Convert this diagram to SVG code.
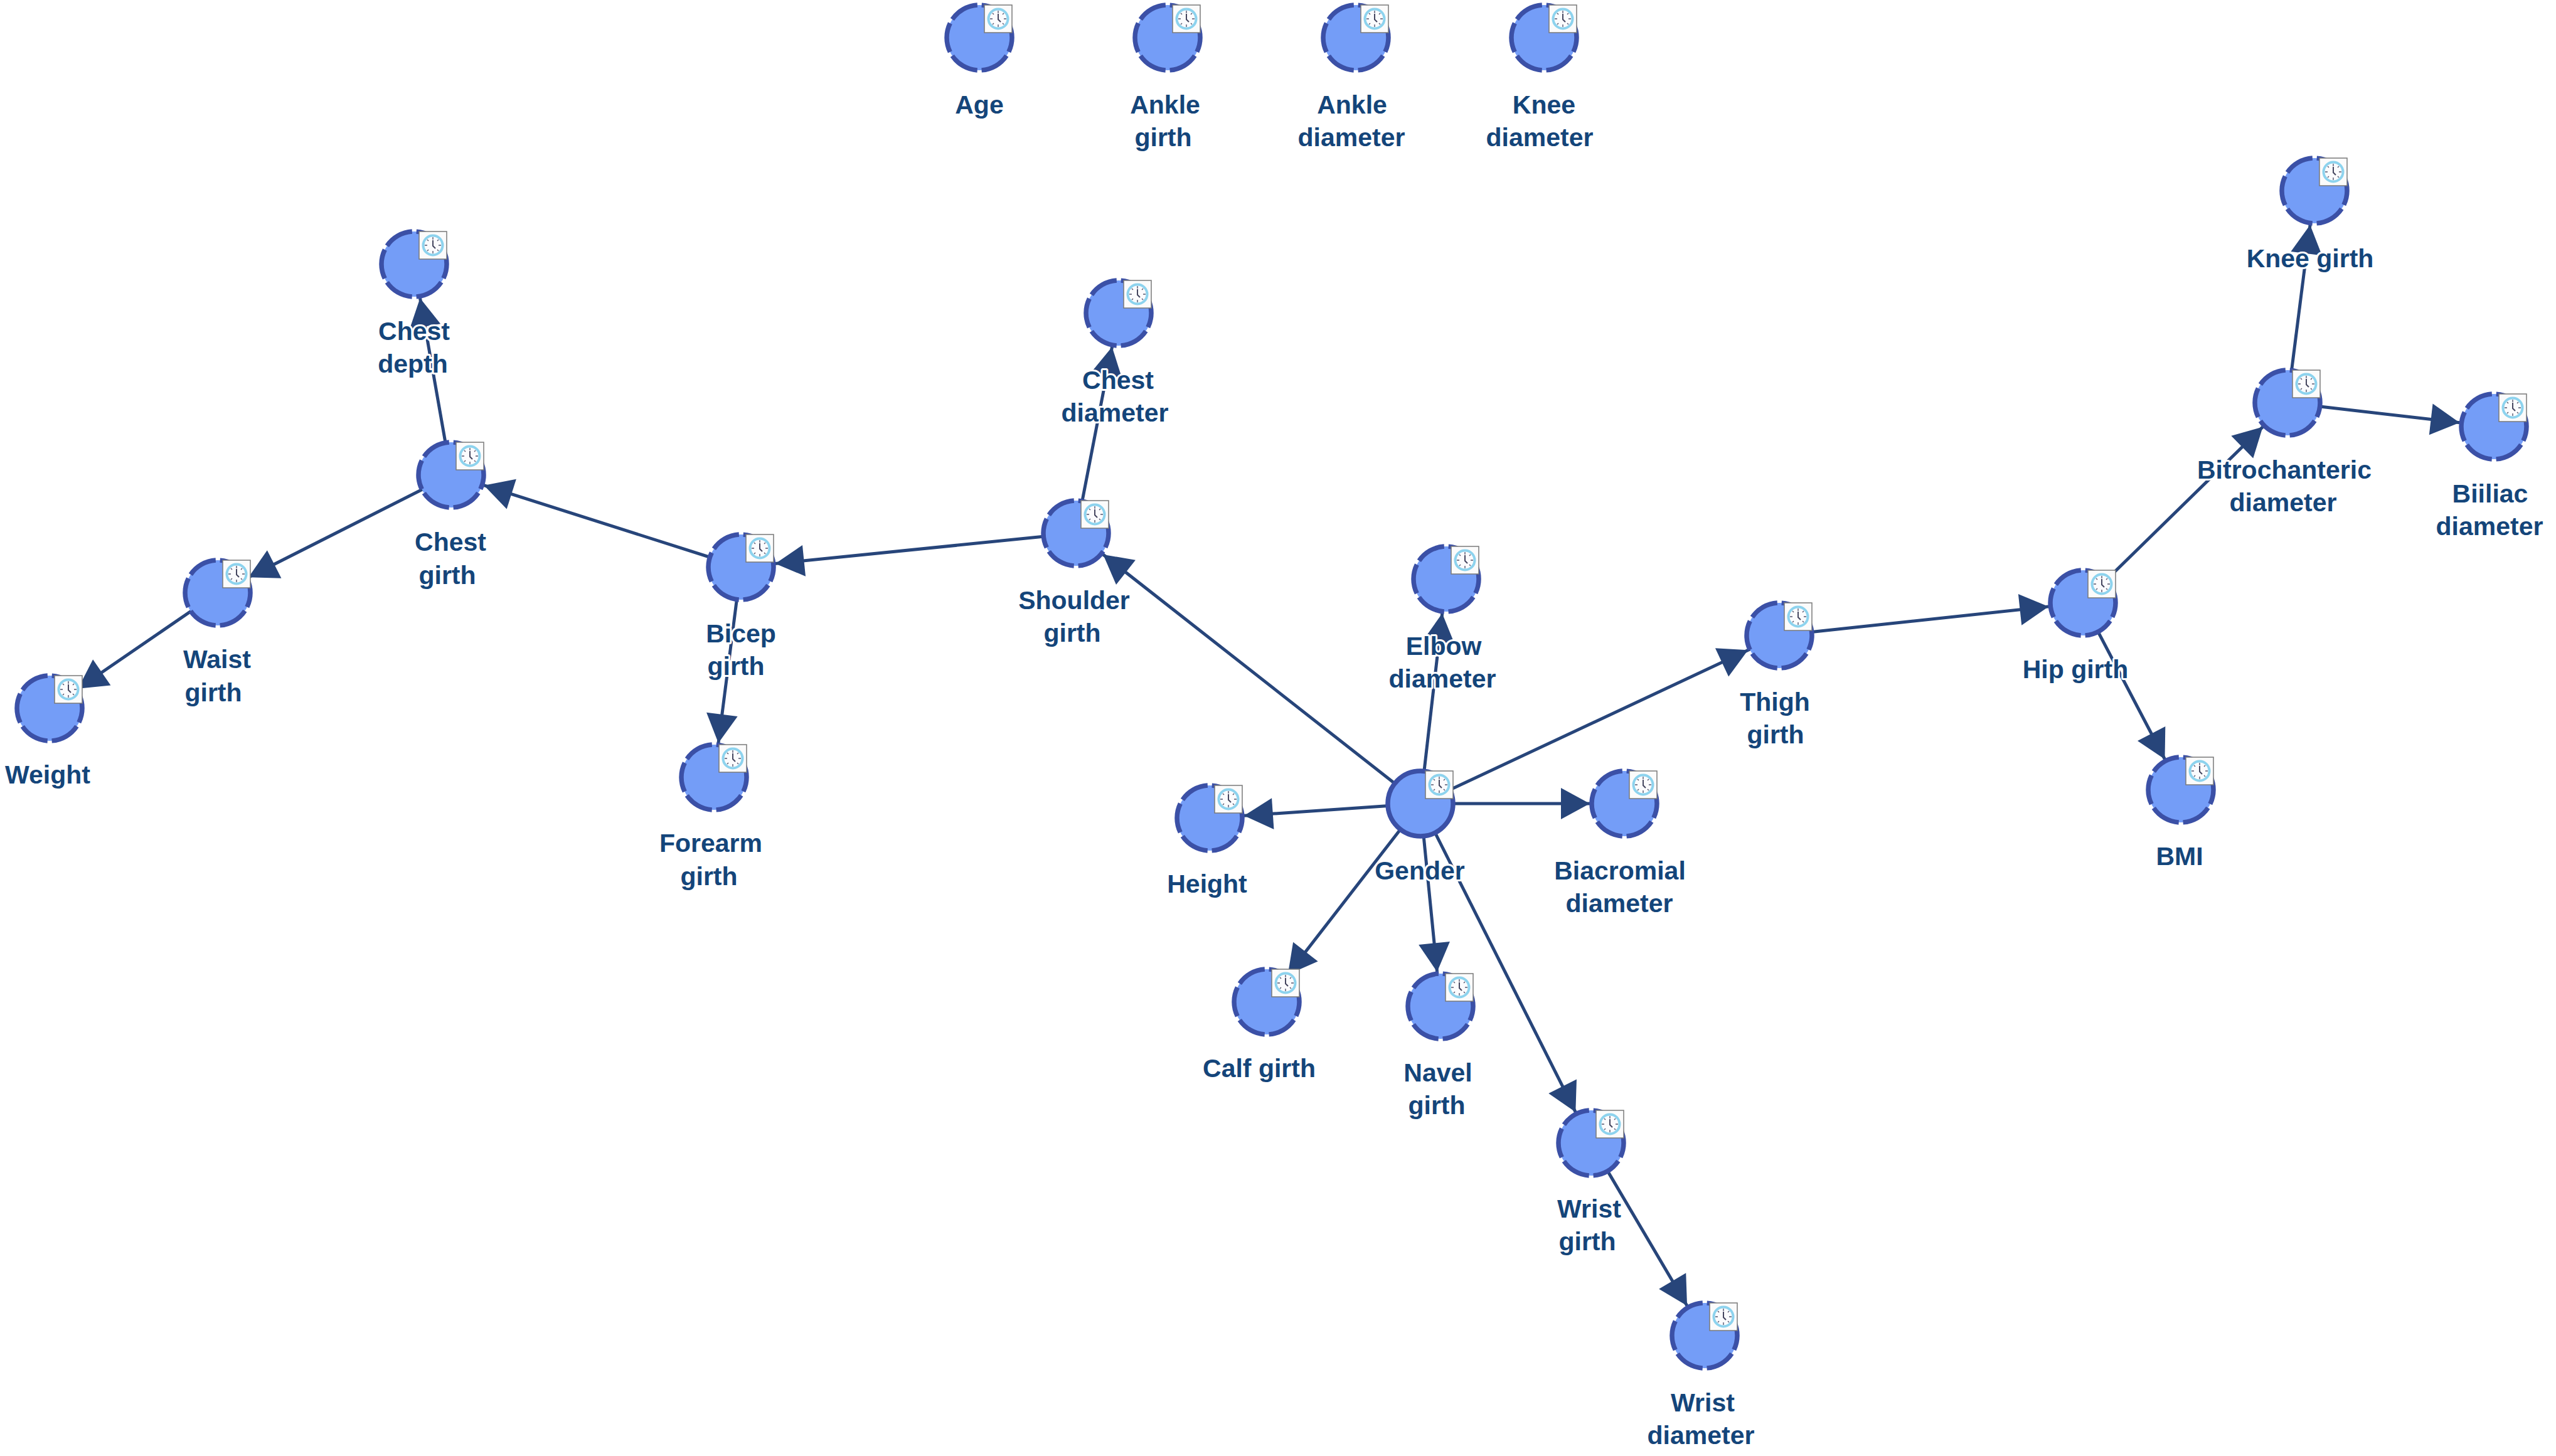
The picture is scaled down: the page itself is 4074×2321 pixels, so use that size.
<svg xmlns="http://www.w3.org/2000/svg" width="4074" height="2321" viewBox="0 0 4074 2321">
<style>
.e{stroke:#27457a;stroke-width:5;fill:none;marker-end:url(#ah)}
.c{fill:#749df7;stroke:#3b50a6;stroke-width:7.5}
.d{stroke-dasharray:47.5 7;stroke-dashoffset:-30.4}
.t{font-family:"Liberation Sans",Arial,sans-serif;font-weight:700;font-size:41px;fill:#14457a;text-anchor:middle;stroke:#fff;stroke-width:6;paint-order:stroke;stroke-linejoin:round}
.tk{stroke:#55566e;stroke-width:1.4}
</style>
<defs>
<marker id="ah" markerUnits="userSpaceOnUse" markerWidth="1" markerHeight="1" refX="0" refY="0" orient="auto" overflow="visible"><path d="M-55,0L-101,-25L-101,25Z" fill="#27457a"/></marker>
<g id="clock">
<rect x="8" y="-52" width="44" height="44" fill="#fbfbfb" stroke="#7a7a7a" stroke-width="1.5"/>
<circle cx="30" cy="-30" r="15.5" fill="#fbfbfd" stroke="#8dd3ee" stroke-width="4"/>
<path class="tk" d="M30,-43V-39M30,-21V-17M17,-30H21M39,-30H43M21,-39L23,-37M39,-39L37,-37M21,-21L23,-23M39,-21L37,-23"/>
<path d="M30,-38V-29L34,-25" fill="none" stroke="#45465f" stroke-width="2"/>
</g>
<g id="dn"><circle class="c d" r="52"/><use href="#clock"/></g>
<g id="sn"><circle class="c" r="52"/><use href="#clock"/></g>
</defs>
<g id="connectors">
<line class="e" x1="719" y1="757" x2="660" y2="421"/>
<line class="e" x1="719" y1="757" x2="347" y2="945"/>
<line class="e" x1="347" y1="945" x2="79" y2="1129"/>
<line class="e" x1="1181" y1="904" x2="719" y2="757"/>
<line class="e" x1="1181" y1="904" x2="1138" y2="1239"/>
<line class="e" x1="1715" y1="850" x2="1181" y2="904"/>
<line class="e" x1="1715" y1="850" x2="1783" y2="499"/>
<line class="e" x1="2264" y1="1281" x2="1715" y2="850"/>
<line class="e" x1="2264" y1="1281" x2="2305" y2="923"/>
<line class="e" x1="2264" y1="1281" x2="1928" y2="1304"/>
<line class="e" x1="2264" y1="1281" x2="2019" y2="1597"/>
<line class="e" x1="2264" y1="1281" x2="2296" y2="1604"/>
<line class="e" x1="2264" y1="1281" x2="2536" y2="1822"/>
<line class="e" x1="2536" y1="1822" x2="2717" y2="2129"/>
<line class="e" x1="2264" y1="1281" x2="2589" y2="1281"/>
<line class="e" x1="2264" y1="1281" x2="2836" y2="1013"/>
<line class="e" x1="2836" y1="1013" x2="3320" y2="961"/>
<line class="e" x1="3320" y1="961" x2="3476" y2="1259"/>
<line class="e" x1="3320" y1="961" x2="3646" y2="642"/>
<line class="e" x1="3646" y1="642" x2="3689" y2="304"/>
<line class="e" x1="3646" y1="642" x2="3975" y2="680"/>
</g>
<g id="age"><use href="#dn" x="1561" y="60"/><text class="t" x="1561" y="181">Age</text></g>
<g id="ankle-girth"><use href="#dn" x="1861" y="60"/><text class="t" x="1857" y="181">Ankle</text><text class="t" x="1854" y="233">girth</text></g>
<g id="ankle-diameter"><use href="#dn" x="2161" y="60"/><text class="t" x="2155" y="181">Ankle</text><text class="t" x="2154" y="233">diameter</text></g>
<g id="knee-diameter"><use href="#dn" x="2461" y="60"/><text class="t" x="2461" y="181">Knee</text><text class="t" x="2454" y="233">diameter</text></g>
<g id="chest-depth"><use href="#dn" x="660" y="421"/><text class="t" x="660" y="542">Chest</text><text class="t" x="658" y="594">depth</text></g>
<g id="chest-diameter"><use href="#dn" x="1783" y="499"/><text class="t" x="1782" y="620">Chest</text><text class="t" x="1777" y="672">diameter</text></g>
<g id="chest-girth"><use href="#dn" x="719" y="757"/><text class="t" x="718" y="878">Chest</text><text class="t" x="713" y="931">girth</text></g>
<g id="waist-girth"><use href="#dn" x="347" y="945"/><text class="t" x="346" y="1065">Waist</text><text class="t" x="340" y="1118">girth</text></g>
<g id="weight"><use href="#dn" x="79" y="1129"/><text class="t" x="76" y="1249">Weight</text></g>
<g id="bicep-girth"><use href="#dn" x="1181" y="904"/><text class="t" x="1181" y="1024">Bicep</text><text class="t" x="1173" y="1076">girth</text></g>
<g id="forearm-girth"><use href="#dn" x="1138" y="1239"/><text class="t" x="1133" y="1358">Forearm</text><text class="t" x="1130" y="1411">girth</text></g>
<g id="shoulder-girth"><use href="#dn" x="1715" y="850"/><text class="t" x="1712" y="971">Shoulder</text><text class="t" x="1709" y="1023">girth</text></g>
<g id="elbow-diameter"><use href="#dn" x="2305" y="923"/><text class="t" x="2301" y="1044">Elbow</text><text class="t" x="2299" y="1096">diameter</text></g>
<g id="height"><use href="#dn" x="1928" y="1304"/><text class="t" x="1924" y="1423">Height</text></g>
<g id="calf-girth"><use href="#dn" x="2019" y="1597"/><text class="t" x="2007" y="1717">Calf girth</text></g>
<g id="navel-girth"><use href="#dn" x="2296" y="1604"/><text class="t" x="2292" y="1724">Navel</text><text class="t" x="2290" y="1776">girth</text></g>
<g id="wrist-girth"><use href="#dn" x="2536" y="1822"/><text class="t" x="2533" y="1941">Wrist</text><text class="t" x="2530" y="1993">girth</text></g>
<g id="wrist-diameter"><use href="#dn" x="2717" y="2129"/><text class="t" x="2714" y="2250">Wrist</text><text class="t" x="2711" y="2302">diameter</text></g>
<g id="biacromial-diameter"><use href="#dn" x="2589" y="1281"/><text class="t" x="2582" y="1402">Biacromial</text><text class="t" x="2581" y="1454">diameter</text></g>
<g id="gender"><use href="#sn" x="2264" y="1281"/><text class="t" x="2263" y="1402">Gender</text></g>
<g id="thigh-girth"><use href="#dn" x="2836" y="1013"/><text class="t" x="2829" y="1133">Thigh</text><text class="t" x="2830" y="1185">girth</text></g>
<g id="hip-girth"><use href="#dn" x="3320" y="961"/><text class="t" x="3308" y="1081">Hip girth</text></g>
<g id="bmi"><use href="#dn" x="3476" y="1259"/><text class="t" x="3474" y="1379">BMI</text></g>
<g id="bitrochanteric-diameter"><use href="#dn" x="3646" y="642"/><text class="t" x="3641" y="763">Bitrochanteric</text><text class="t" x="3639" y="815">diameter</text></g>
<g id="knee-girth"><use href="#dn" x="3689" y="304"/><text class="t" x="3682" y="426">Knee girth</text></g>
<g id="biiliac-diameter"><use href="#dn" x="3975" y="680"/><text class="t" x="3969" y="801">Biiliac</text><text class="t" x="3968" y="853">diameter</text></g>
</svg>
